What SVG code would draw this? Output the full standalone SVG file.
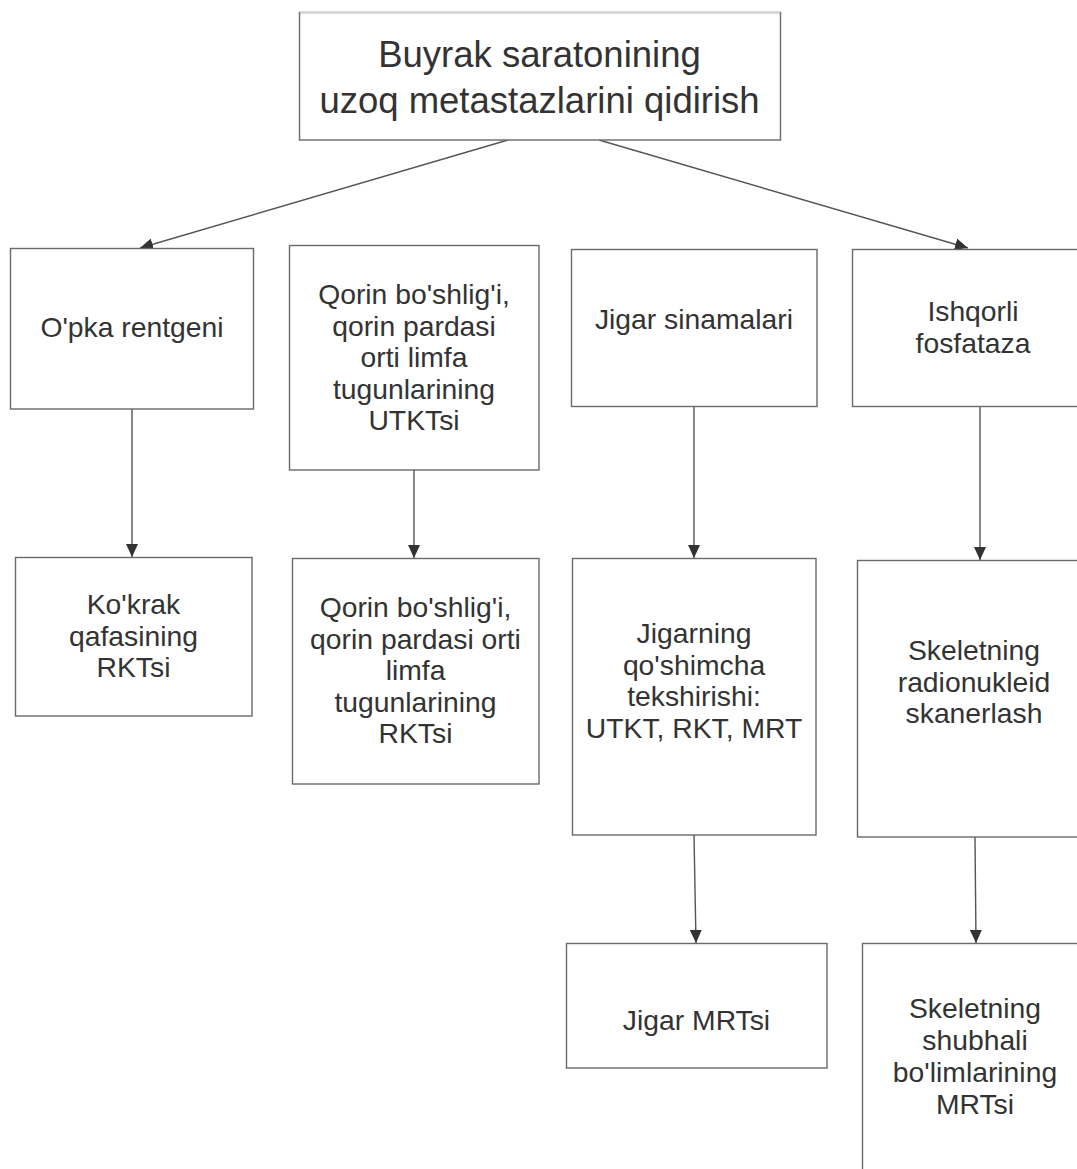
<svg xmlns="http://www.w3.org/2000/svg" width="1077" height="1169" viewBox="0 0 1077 1169">
<defs>
<style>
.box{fill:#ffffff;stroke:#6a6a6a;stroke-width:1.4}
.t{font-family:"Liberation Sans",Arial,sans-serif;font-size:28.3px;fill:#333333;text-anchor:middle}
.tt{font-family:"Liberation Sans",Arial,sans-serif;font-size:36.5px;fill:#333333;text-anchor:middle}
.c{fill:none;stroke:#555555;stroke-width:1.4;marker-end:url(#arr)}
</style>
<marker id="arr" markerUnits="userSpaceOnUse" markerWidth="14" markerHeight="12" refX="13" refY="6" orient="auto">
<path d="M0,0 L13,6 L0,12 z" fill="#333333"/>
</marker>
</defs>
<rect width="1077" height="1169" fill="#ffffff"/>
<g id="connectors">
<line class="c" x1="508" y1="140" x2="140" y2="248"/>
<line class="c" x1="599" y1="140" x2="968" y2="248"/>
<line class="c" x1="132" y1="409" x2="132" y2="557"/>
<line class="c" x1="414" y1="470" x2="414" y2="558"/>
<line class="c" x1="694" y1="406" x2="694" y2="558"/>
<line class="c" x1="980" y1="406" x2="980" y2="560"/>
<line class="c" x1="694" y1="835" x2="696" y2="943"/>
<line class="c" x1="975" y1="837" x2="976" y2="943"/>
</g>
<g id="root">
<rect class="box" x="299.5" y="12.5" width="481" height="127.5"/>
<line x1="300" y1="12.5" x2="780" y2="12.5" stroke="#d0d0d0" stroke-width="1.6"/>
<text class="tt" x="539.5" y="67">Buyrak saratonining</text>
<text class="tt" x="539.5" y="113">uzoq metastazlarini qidirish</text>
</g>
<g id="n-opka">
<rect class="box" x="10.5" y="248.5" width="243" height="160.5"/>
<text class="t" x="132" y="337">O'pka rentgeni</text>
</g>
<g id="n-qorin-utkt">
<rect class="box" x="289.5" y="245.5" width="249.5" height="224.5"/>
<text class="t" x="414" y="304">Qorin bo'shlig'i,</text>
<text class="t" x="414" y="335.5">qorin pardasi</text>
<text class="t" x="414" y="367">orti limfa</text>
<text class="t" x="414" y="398.5">tugunlarining</text>
<text class="t" x="414" y="430">UTKTsi</text>
</g>
<g id="n-jigar-sinama">
<rect class="box" x="571.5" y="249.5" width="245.5" height="157"/>
<text class="t" x="694" y="329">Jigar sinamalari</text>
</g>
<g id="n-ishqorli">
<rect class="box" x="852.5" y="249.5" width="245" height="157"/>
<text class="t" x="973" y="321">Ishqorli</text>
<text class="t" x="973" y="353">fosfataza</text>
</g>
<g id="n-kokrak">
<rect class="box" x="15.5" y="557.5" width="236.5" height="158.5"/>
<text class="t" x="133.5" y="614">Ko'krak</text>
<text class="t" x="133.5" y="645.5">qafasining</text>
<text class="t" x="133.5" y="677">RKTsi</text>
</g>
<g id="n-qorin-rkt">
<rect class="box" x="292.5" y="558.5" width="246.5" height="225.5"/>
<text class="t" x="415.5" y="617">Qorin bo'shlig'i,</text>
<text class="t" x="415.5" y="648.5">qorin pardasi orti</text>
<text class="t" x="415.5" y="680">limfa</text>
<text class="t" x="415.5" y="711.5">tugunlarining</text>
<text class="t" x="415.5" y="743">RKTsi</text>
</g>
<g id="n-jigar-qoshimcha">
<rect class="box" x="572.5" y="558.5" width="243.5" height="276.5"/>
<text class="t" x="694" y="643">Jigarning</text>
<text class="t" x="694" y="674.5">qo'shimcha</text>
<text class="t" x="694" y="706">tekshirishi:</text>
<text class="t" x="694" y="737.5">UTKT, RKT, MRT</text>
</g>
<g id="n-skelet-radio">
<rect class="box" x="857.5" y="560.5" width="240" height="276.5"/>
<text class="t" x="974" y="660">Skeletning</text>
<text class="t" x="974" y="691.5">radionukleid</text>
<text class="t" x="974" y="723">skanerlash</text>
</g>
<g id="n-jigar-mrt">
<rect class="box" x="566.5" y="943.5" width="260.5" height="124.5"/>
<text class="t" x="696.5" y="1030">Jigar MRTsi</text>
</g>
<g id="n-skelet-mrt">
<rect class="box" x="862.5" y="943.5" width="230" height="240"/>
<text class="t" x="975" y="1018">Skeletning</text>
<text class="t" x="975" y="1050">shubhali</text>
<text class="t" x="975" y="1082">bo'limlarining</text>
<text class="t" x="975" y="1114">MRTsi</text>
</g>
</svg>
